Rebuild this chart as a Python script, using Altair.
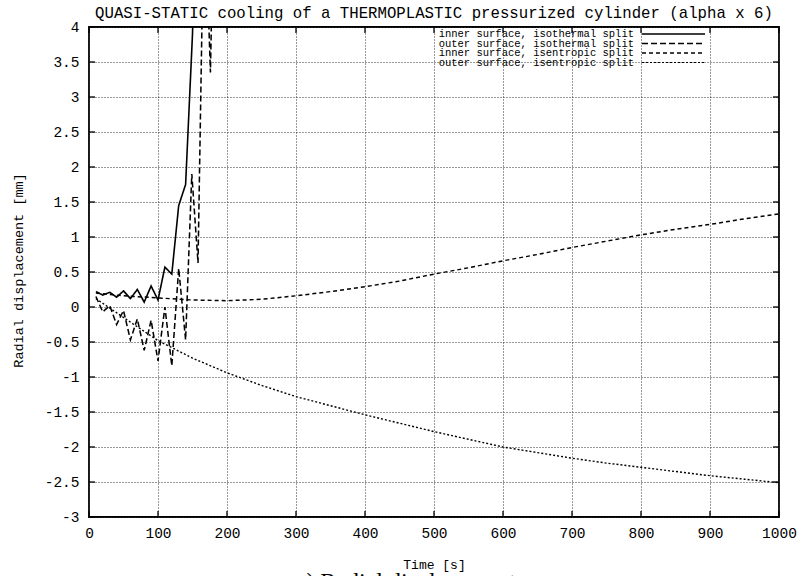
import altair as alt
import pandas as pd

MONO = "Liberation Mono"

# ---- data ----
series_names = [
    "inner surface, isothermal split",
    "outer surface, isothermal split",
    "inner surface, isentropic split",
    "outer surface, isentropic split",
]

inner_iso_t = [10, 20, 30, 40, 50, 60, 70, 80, 90, 100, 110, 120, 130, 140, 150, 160]
inner_iso_v = [0.22, 0.17, 0.21, 0.14, 0.23, 0.12, 0.25, 0.07, 0.30, 0.10, 0.57, 0.47, 1.45, 1.75, 3.9, 8.0]

outer_iso_t = [10, 20, 30, 40, 50, 60, 70, 80, 90, 100, 110, 120, 130, 140, 149, 158, 167, 176, 185]
outer_iso_v = [0.15, -0.07, 0.02, -0.25, -0.05, -0.47, -0.17, -0.62, -0.19, -0.77, 0.0, -0.84, 0.55, -0.47, 1.9, 0.63, 6.0, 3.35, 8.0]

inner_isen_t = [10, 50, 100, 150, 200, 250, 300, 350, 400, 450, 500, 550, 600, 650, 700, 750, 800, 850, 900, 950, 1000]
inner_isen_v = [0.20, 0.16, 0.13, 0.10, 0.09, 0.11, 0.16, 0.22, 0.29, 0.37, 0.47, 0.56, 0.66, 0.75, 0.85, 0.94, 1.03, 1.11, 1.18, 1.26, 1.33]

outer_isen_t = [10, 50, 100, 150, 200, 250, 300, 350, 400, 450, 500, 550, 600, 650, 700, 750, 800, 850, 900, 950, 1000]
outer_isen_v = [0.12, -0.15, -0.48, -0.73, -0.94, -1.12, -1.28, -1.41, -1.54, -1.66, -1.78, -1.89, -2.00, -2.08, -2.16, -2.23, -2.29, -2.35, -2.41, -2.46, -2.51]

x_ticks = [0, 100, 200, 300, 400, 500, 600, 700, 800, 900, 1000]
y_ticks = [-3, -2.5, -2, -1.5, -1, -0.5, 0, 0.5, 1, 1.5, 2, 2.5, 3, 3.5, 4]

title_text = "QUASI-STATIC cooling of a THERMOPLASTIC pressurized cylinder (alpha x 6)"
caption_text = ") Radial displacement"

# ---- build tables ----
rows = []
for name, ts, vs in zip(series_names,
                        [inner_iso_t, outer_iso_t, inner_isen_t, outer_isen_t],
                        [inner_iso_v, outer_iso_v, inner_isen_v, outer_isen_v]):
    for i, (t, v) in enumerate(zip(ts, vs)):
        rows.append({"series": name, "t": t, "v": v, "order": i})
df = pd.DataFrame(rows)

W, H = 690, 490
dashes = [[1, 0], [6, 3], [4, 3], [2, 2]]
widths = [1.6, 1.4, 1.4, 1.2]

xscale = alt.Scale(domain=[0, 1000], nice=False, zero=False)
yscale = alt.Scale(domain=[-3, 4], nice=False, zero=False)

x_axis = alt.Axis(
    values=x_ticks, format="d", title="Time [s]", grid=True, ticks=False,
    domain=False, labelFont=MONO, labelFontSize=14.5, labelColor="black",
    labelPadding=16, labelBaseline="middle", labelFlush=False, labelOverlap=False,
    titleFont=MONO, titleFontSize=13, titleFontWeight="normal", titleColor="black",
    titleY=47, titleBaseline="middle",
    gridDash=[1, 2], gridColor="#333", gridWidth=1)
y_axis = alt.Axis(
    values=y_ticks, format="~g", labelExpr="replace(datum.label, '\u2212', '-')",
    title="Radial displacement [mm]",
    grid=True, ticks=False, domain=False,
    labelFont=MONO, labelFontSize=14.5, labelColor="black", labelPadding=10,
    labelFlush=False, labelOverlap=False,
    titleFont=MONO, titleFontSize=13.5, titleFontWeight="normal", titleColor="black",
    titleX=-71, titleY=243, titleBaseline="middle", titleAlign="center",
    gridDash=[1, 2], gridColor="#333", gridWidth=1)

curves = alt.Chart(df).mark_line(clip=True, color="black").encode(
    x=alt.X("t:Q", scale=xscale, axis=x_axis),
    y=alt.Y("v:Q", scale=yscale, axis=y_axis),
    detail="series:N",
    order="order:Q",
    strokeDash=alt.StrokeDash("series:N", scale=alt.Scale(domain=series_names, range=dashes), legend=None),
    strokeWidth=alt.StrokeWidth("series:N", scale=alt.Scale(domain=series_names, range=widths), legend=None),
)

# inward (mirrored) ticks on all four sides, gnuplot style
xt = pd.DataFrame({"t": x_ticks})
yt = pd.DataFrame({"v": y_ticks})
TL = 6
tick_layers = [
    alt.Chart(xt).mark_rule(color="black", strokeWidth=1.3).encode(
        x=alt.X("t:Q", scale=xscale, axis=x_axis), y=alt.value(H), y2=alt.value(H - TL)),
    alt.Chart(xt).mark_rule(color="black", strokeWidth=1.3).encode(
        x=alt.X("t:Q", scale=xscale, axis=x_axis), y=alt.value(0), y2=alt.value(TL)),
    alt.Chart(yt).mark_rule(color="black", strokeWidth=1.3).encode(
        y=alt.Y("v:Q", scale=yscale, axis=y_axis), x=alt.value(0), x2=alt.value(TL)),
    alt.Chart(yt).mark_rule(color="black", strokeWidth=1.3).encode(
        y=alt.Y("v:Q", scale=yscale, axis=y_axis), x=alt.value(W), x2=alt.value(W - TL)),
]

# legend (gnuplot style key, top right)
legend_layers = []
row_y = [7, 16.5, 26, 35.5]
for name, dash, wdt, yy in zip(series_names, dashes, widths, row_y):
    ldf = pd.DataFrame({"label": [name]})
    legend_layers.append(
        alt.Chart(ldf).mark_text(font=MONO, fontSize=10.5, align="right", baseline="middle", color="black")
        .encode(x=alt.value(545), y=alt.value(yy), text="label:N"))
    legend_layers.append(
        alt.Chart(ldf).mark_rule(color="black", strokeDash=dash, strokeWidth=wdt)
        .encode(x=alt.value(553), x2=alt.value(616), y=alt.value(yy)))

title_mark = alt.Chart(pd.DataFrame({"label": [title_text]})).mark_text(
    font=MONO, fontSize=15.7, align="center", baseline="alphabetic", color="black"
).encode(x=alt.value(W / 2), y=alt.value(-9), text="label:N")

cap = alt.Chart(pd.DataFrame({"label": [caption_text]})).mark_text(
    font="Liberation Serif", fontSize=24, align="center", baseline="alphabetic", color="black"
).encode(x=alt.value(322), y=alt.value(562), text="label:N")

chart = alt.layer(curves, *tick_layers, *legend_layers, title_mark, cap).properties(
    width=W, height=H,
    autosize=alt.AutoSizeParams(type="none"),
    padding={"left": 89, "top": 27, "right": 23, "bottom": 59},
    background="white",
).configure_view(stroke="black", strokeWidth=1.8)

chart.save("out.html", embed_options={"renderer": "svg", "actions": False})
